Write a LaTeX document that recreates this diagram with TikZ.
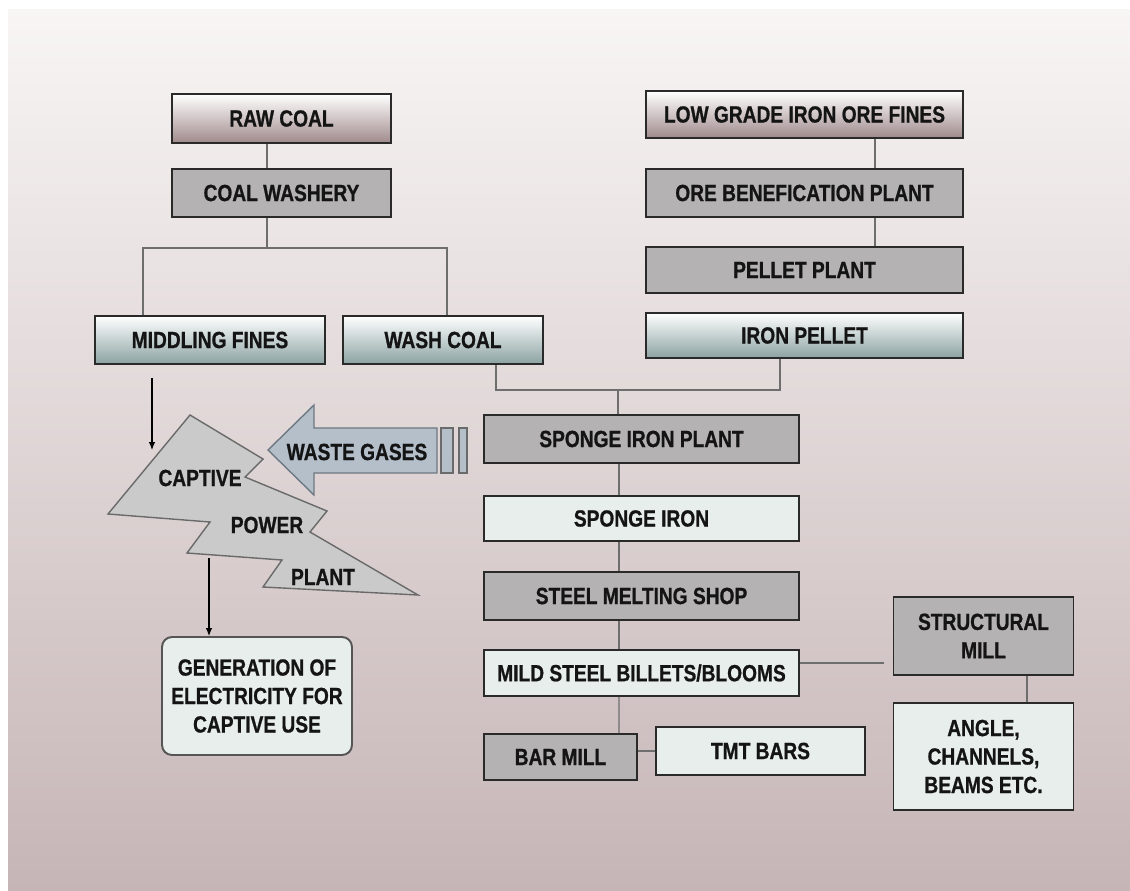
\documentclass[tikz,border=0pt]{standalone}
\usepackage{fontspec}
\setmainfont{Liberation Sans}[FakeStretch=0.82, BoldFeatures={FakeBold=0.8}]
\usepackage{tikz}
\usetikzlibrary{arrows.meta, calc, positioning}
\usepackage{xcolor}
\definecolor{bgtop}{HTML}{F8F5F5}
\definecolor{bgbot}{HTML}{C6B5B6}
\definecolor{feedbot}{HTML}{A08A8B}
\definecolor{plantgray}{HTML}{B4B2B2}
\definecolor{interbot}{HTML}{8CA2A2}
\definecolor{outfill}{HTML}{E7EEEB}
\definecolor{linegray}{HTML}{6E6E6E}
\definecolor{boxdraw}{HTML}{2A2A2A}
\definecolor{gasfill}{HTML}{B4BFCA}
\definecolor{gasdraw}{HTML}{6E7882}
\definecolor{boltfill}{HTML}{CACACA}
\definecolor{boltdraw}{HTML}{6A6A6A}
\definecolor{txtdark}{HTML}{141414}
\newcommand{\boxfont}{\fontsize{13.3}{16.2}\selectfont\bfseries}

\begin{document}
\begin{tikzpicture}[
  x=0.02cm, y=-0.02cm,
  font=\boxfont, text=txtdark,
  block/.style={draw=boxdraw, line width=1.1pt, align=center, inner sep=0pt,
                minimum height=0.96cm},
  feedblock/.style={block, top color=white, bottom color=feedbot},
  plantblock/.style={block, fill=plantgray},
  interblock/.style={block, top color=white, bottom color=interbot},
  outblock/.style={block, fill=outfill},
  link/.style={draw=linegray, line width=0.8pt},
  arrow/.style={-{Latex[length=1.6mm, width=1.3mm]}, draw=black, line width=0.6pt}
]

% ---------------- Background ----------------
\useasboundingbox (0,0) rectangle (1130,890);
\fill[white] (0,0) rectangle (1130,890);
\shade[top color=bgtop, bottom color=bgbot] (8,9) rectangle (1130,890);

% ---------------- Coal line ----------------
\node[feedblock, minimum width=4.38cm, minimum height=0.98cm] (rawcoal) at (281.5,118.5) {RAW COAL};
\node[plantblock, minimum width=4.38cm] (washery) at (281.5,193) {COAL WASHERY};
\node[interblock, minimum width=4.6cm] (middling) at (210,340) {MIDDLING FINES};
\node[interblock, minimum width=4.0cm] (washcoal) at (443,340) {WASH COAL};

% ---------------- Ore line ----------------
\node[feedblock, minimum width=6.34cm, minimum height=0.94cm] (lowgrade) at (804.5,114.5) {LOW GRADE IRON ORE FINES};
\node[plantblock, minimum width=6.34cm] (benef) at (804.5,193) {ORE BENEFICATION PLANT};
\node[plantblock, minimum width=6.34cm, minimum height=0.92cm] (pelletplant) at (804.5,270) {PELLET PLANT};
\node[interblock, minimum width=6.34cm, minimum height=0.9cm] (ironpellet) at (804.5,335.5) {IRON PELLET};

% ---------------- Steel line ----------------
\node[plantblock, minimum width=6.3cm] (spongeplant) at (641.5,439) {SPONGE IRON PLANT};
\node[outblock, minimum width=6.3cm, minimum height=0.9cm] (sponge) at (641.5,518.5) {SPONGE IRON};
\node[plantblock, minimum width=6.3cm] (sms) at (641.5,596) {STEEL MELTING SHOP};
\node[outblock, minimum width=6.3cm, minimum height=0.92cm] (billets) at (641.5,673) {MILD STEEL BILLETS/BLOOMS};
\node[plantblock, minimum width=3.06cm, minimum height=0.92cm] (barmill) at (560.5,757) {BAR MILL};
\node[outblock, minimum width=4.18cm] (tmt) at (760.5,751) {TMT BARS};
\node[plantblock, minimum width=3.6cm, minimum height=1.56cm] (structural) at (983.5,636) {STRUCTURAL\\MILL};
\node[outblock, minimum width=3.6cm, minimum height=2.14cm] (angle) at (983.5,756.5) {ANGLE,\\CHANNELS,\\BEAMS ETC.};

% ---------------- Captive power plant ----------------
\filldraw[fill=boltfill, draw=boltdraw, line width=0.8pt]
  (190,415) -- (263,459) -- (245,477) -- (327,511) -- (310,532) -- (418,595)
  -- (263,587) -- (282,560) -- (187,553) -- (210,522) -- (108,514) -- cycle;
\node (captive) at (200,478) {CAPTIVE};
\node (power)   at (267,525) {POWER};
\node (plant)   at (323,577) {PLANT};
\coordinate (cppin)  at (152,450);
\coordinate (cppout) at (209,558);

\node[block, draw=boxdraw!80, fill=outfill, rounded corners=0.2cm,
      minimum width=3.8cm, minimum height=2.36cm] (generation) at (257,696)
  {GENERATION OF\\ELECTRICITY FOR\\CAPTIVE USE};

% waste gases arrow
\filldraw[fill=gasfill, draw=gasdraw, line width=0.8pt]
  (268,450) -- (314,405) -- (314,428) -- (437,428) -- (437,473)
  -- (314,473) -- (314,495) -- cycle;
\filldraw[fill=gasfill, draw=boltdraw, line width=0.8pt] (441,428) rectangle (453,473);
\filldraw[fill=gasfill, draw=boltdraw, line width=0.8pt] (459,428) rectangle (467,473);
\node (gases) at (357,452) {WASTE GASES};

% ---------------- Connectors ----------------
\coordinate (split) at (267,248);
\coordinate (join) at (618,390);

\draw[link] ($(rawcoal.south)+(-14.5,0)$) -- ($(washery.north)+(-14.5,0)$);
\draw[link] ($(washery.south)+(-14.5,0)$) -- (split);
\draw[link] ($(middling.north)+(-67,0)$) |- (split) -| ($(washcoal.north)+(4,0)$);

\draw[link] ($(lowgrade.south)+(70.5,0)$) -- ($(benef.north)+(70.5,0)$);
\draw[link] ($(benef.south)+(70.5,0)$) -- ($(pelletplant.north)+(70.5,0)$);

\draw[link] ($(washcoal.south)+(53,0)$) |- (join) -| ($(ironpellet.south)+(-24.5,0)$);
\draw[link] (join) -- (join |- spongeplant.north);

\draw[link] ($(spongeplant.south)+(-22.5,0)$) -- ($(sponge.north)+(-22.5,0)$);
\draw[link] ($(sponge.south)+(-22.5,0)$) -- ($(sms.north)+(-22.5,0)$);
\draw[link] ($(sms.south)+(-22.5,0)$) -- ($(billets.north)+(-22.5,0)$);
\draw[link] ($(billets.south)+(-22.5,0)$) -- ($(barmill.north)+(58.5,0)$);
\draw[link] (barmill.east |- tmt.west) -- (tmt.west);
\draw[link] ($(billets.east)+(0,-10)$) -- ($(structural.west)+(-9,27)$);
\draw[link] ($(structural.south)+(43.5,0)$) -- ($(angle.north)+(43.5,0)$);

\draw[arrow, shorten <=0.26cm] (middling.south -| cppin) -- (cppin);
\draw[arrow] (cppout) -- (cppout |- generation.north);

\end{tikzpicture}
\end{document}
